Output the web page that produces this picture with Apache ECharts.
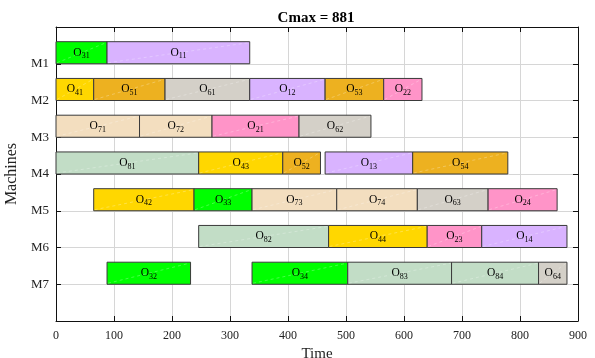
<!DOCTYPE html>
<html>
<head>
<meta charset="utf-8">
<script src="https://cdn.jsdelivr.net/npm/echarts@6/dist/echarts.min.js"></script>
<style>html,body{margin:0;padding:0;background:#fff}#c{width:595px;height:358px}</style>
</head>
<body>
<div id="c"></div>
<script>
// Machine labels (y categories) and x tick labels
var machines = ['M1','M2','M3','M4','M5','M6','M7'];
var timeTicks = [0,100,200,300,400,500,600,700,800,900];
// Operations: machine index (1-based), start, end, job, operation number
var opMachine = [1,1, 2,2,2,2,2,2, 3,3,3,3, 4,4,4,4,4, 5,5,5,5,5,5, 6,6,6,6, 7,7,7,7,7];
var opStart   = [0,88, 0,65,188,334,464,565, 0,144,269,419, 0,246,391,464,615, 65,238,338,484,623,745, 246,470,640,734, 88,338,503,682,832];
var opEnd     = [88,334, 65,188,334,464,565,631, 144,269,419,543, 246,391,456,615,779, 238,338,484,623,745,864, 470,640,734,881, 232,503,682,832,881];
var opJob     = [3,1, 4,5,6,1,5,2, 7,7,2,6, 8,4,5,1,5, 4,3,7,7,6,2, 8,4,2,1, 3,3,8,8,6];
var opNum     = [1,1, 1,1,1,2,3,2, 1,2,1,2, 1,3,2,3,4, 2,3,3,4,3,4, 2,4,3,4, 2,4,3,4,4];
var jobColors = ['#D9B3FF','#FF94C8','#00FF00','#FFD700','#EDB120','#D4D0C8','#F3DEBF','#C2DDC6'];
var cmax = 881;

var data = [];
for (var i = 0; i < opMachine.length; i++) {
  data.push([opStart[i], opEnd[i], opMachine[i], opJob[i], opNum[i]]);
}
var serif = '"Liberation Serif","DejaVu Serif",serif';

var chart = echarts.init(document.getElementById('c'), null, {renderer:'canvas'});
chart.setOption({
  animation: false,
  title: {
    text: 'Cmax = ' + cmax, left: 311, top: 6, textAlign: 'center',
    textStyle: {fontFamily: serif, fontSize: 15, fontWeight: 'bold', color: '#000'}
  },
  grid: {left: 56, right: 17, top: 27, bottom: 37, outerBoundsMode: 'none', containLabel: false},
  xAxis: [{
    type: 'value', min: 0, max: 900, interval: 100,
    name: 'Time', nameLocation: 'middle', nameGap: 22,
    nameTextStyle: {fontFamily: serif, fontSize: 15, color: '#222'},
    axisLine: {show: true, onZero: false, lineStyle: {color: '#111', width: 1}},
    axisTick: {show: true, inside: true, length: 5, lineStyle: {color: '#111'}},
    axisLabel: {fontFamily: serif, fontSize: 12, color: '#222', margin: 9,
      formatter: function (v) { return timeTicks.indexOf(v) >= 0 ? String(v) : ''; }},
    splitLine: {show: true, lineStyle: {color: '#d6d6d6', width: 1}}
  }, {
    type: 'value', min: 0, max: 900, interval: 100, position: 'top',
    axisLine: {show: true, onZero: false, lineStyle: {color: '#111', width: 1}},
    axisTick: {show: true, inside: true, length: 5, lineStyle: {color: '#111'}},
    axisLabel: {show: false}, splitLine: {show: false}
  }],
  yAxis: [{
    type: 'value', min: 0, max: 8, interval: 1, inverse: true,
    name: 'Machines', nameLocation: 'middle', nameGap: 31, nameRotate: 90,
    nameTextStyle: {fontFamily: serif, fontSize: 16, color: '#222'},
    axisLine: {show: true, onZero: false, lineStyle: {color: '#111', width: 1}},
    axisTick: {show: true, inside: true, length: 5, lineStyle: {color: '#111'},
      interval: function (idx, v) { return v >= 1 && v <= 7; }},
    axisLabel: {fontFamily: serif, fontSize: 13, color: '#222', margin: 7,
      formatter: function (v) { return (v >= 1 && v <= 7) ? machines[v - 1] : ''; }},
    splitLine: {show: true, lineStyle: {color: '#d6d6d6', width: 1},
      interval: function (idx, v) { return v >= 1 && v <= 7; }}
  }, {
    type: 'value', min: 0, max: 8, interval: 1, inverse: true, position: 'right',
    axisLine: {show: true, onZero: false, lineStyle: {color: '#111', width: 1}},
    axisTick: {show: true, inside: true, length: 5, lineStyle: {color: '#111'}},
    axisLabel: {show: false}, splitLine: {show: false}
  }],
  series: [{
    type: 'custom', xAxisIndex: 0, yAxisIndex: 0,
    data: data,
    encode: {x: [0, 1], y: 2},
    renderItem: function (params, api) {
      var s = api.value(0), e = api.value(1), m = api.value(2);
      var j = api.value(3), k = api.value(4);
      var p0 = api.coord([s, m - 0.6]);
      var p1 = api.coord([e, m]);
      var x = p0[0], y = p0[1], w = p1[0] - p0[0], h = p1[1] - p0[1];
      var cx = x + w / 2, cy = y + h / 2;
      return {
        type: 'group',
        children: [{
          type: 'rect',
          shape: {x: x, y: y, width: w, height: h},
          style: {fill: jobColors[j - 1], stroke: '#3a3a3a', lineWidth: 1}
        }, {
          type: 'line',
          shape: {x1: x + 1, y1: y + h - 1, x2: x + w - 1, y2: y + 1},
          style: {stroke: 'rgba(255,255,255,0.45)', lineWidth: 0.6, lineDash: [3, 3]},
          silent: true
        }, {
          type: 'text',
          style: {
            x: cx, y: cy, align: 'center', verticalAlign: 'middle',
            text: '{o|O}{s|' + j + k + '}',
            rich: {
              o: {fontFamily: serif, fontSize: 11.5, color: '#111', lineHeight: 14},
              s: {fontFamily: serif, fontSize: 8, color: '#111', lineHeight: 14, padding: [7, 0, 0, 0]}
            }
          }
        }]
      };
    }
  }]
});
</script>
</body>
</html>
